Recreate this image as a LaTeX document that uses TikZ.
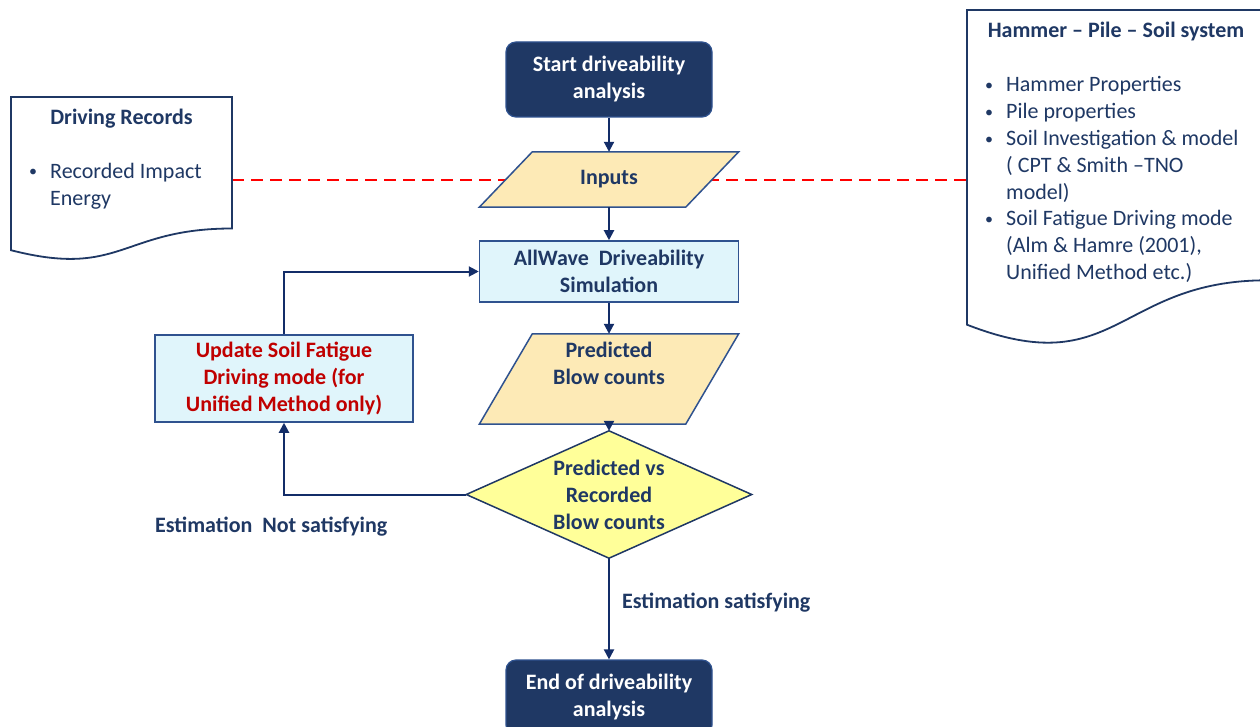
\documentclass[tikz,border=0pt]{standalone}
\usepackage{fontspec}
\setmainfont{Carlito}
\usetikzlibrary{arrows.meta,backgrounds,calc}
\definecolor{navy}{HTML}{1F3864}
\definecolor{linenavy}{HTML}{132D68}
\definecolor{bord}{HTML}{2F528F}
\definecolor{cyanfill}{HTML}{E0F5FB}
\definecolor{iofill}{HTML}{FDEAB6}
\definecolor{decfill}{HTML}{FFFF99}
\definecolor{redtxt}{HTML}{C00000}
\newcommand{\dbul}{\strut\makebox[22pt][l]{\hspace*{1pt}\raisebox{1.5pt}{\fontsize{16pt}{16pt}\selectfont\textbullet}}}
\newcommand{\dind}{\strut\hspace*{22pt}}
\begin{document}
\begin{tikzpicture}[x=1pt,y=-1pt,
  txt/.style={font=\fontsize{22pt}{27pt}\selectfont, text=navy, inner sep=0pt},
  btxt/.style={txt, font=\fontsize{22pt}{27pt}\selectfont\bfseries},
  term/.style={btxt, align=center, text=white, fill=navy, draw=bord, line width=1.2pt, rounded corners=10pt, minimum width=206pt, minimum height=75pt},
  proc/.style={btxt, align=center, fill=cyanfill, draw=bord, line width=1.5pt},
  io/.style={btxt, align=center},
  ioshape/.style={fill=iofill, draw=bord, line width=1.5pt},
  decshape/.style={fill=decfill, draw=navy, line width=1.5pt},
  docshape/.style={fill=white, draw=navy, line width=1.8pt},
  arr/.style={draw=linenavy, line width=2pt, -{Triangle[length=10pt,width=10pt]}},
  reddash/.style={draw=red, line width=2.5pt, dash pattern=on 12pt off 7pt}
]
\begin{pgfonlayer}{background}
\fill[white] (0,0) rectangle (1260,727);
\end{pgfonlayer}
\useasboundingbox (0,0) rectangle (1260,727);

% document shapes
\draw[docshape] (11,97) -- (232,97) -- (232,228.5) .. controls (121.5,228.5) and (121.5,278.6) .. (11,250.2) -- cycle;
\draw[docshape] (967,10) -- (1267,10) -- (1267,280.3) .. controls (1117,280.3) and (1117,383.2) .. (967,324.7) -- cycle;

\node[btxt] (drT) at (121.5,119) {Driving Records};
\node[txt, align=left, anchor=north west] (drL) at (28,159) {\dbul Recorded Impact\\\dind Energy};
\coordinate (drE) at (232,180);

\node[btxt] (hmT) at (1116,32) {Hammer – Pile – Soil system};
\node[txt, align=left, anchor=north west, font=\fontsize{22pt}{26.8pt}\selectfont] (hmL) at (984,73) {\dbul Hammer Properties\\
\dbul Pile properties\\
\dbul Soil Investigation \& model\\
\dind ( CPT \& Smith –TNO\\
\dind model)\\
\dbul Soil Fatigue Driving mode\\
\dind (Alm \& Hamre (2001),\\
\dind Unified Method\ etc.)};
\coordinate (hmW) at (967,180);

% flow nodes
\node[term] (start) at (609,79.5) {Start driveability\\analysis};
\node[io, minimum width=206pt, minimum height=55pt] (inputs) at (609,179.5) {Inputs};
\node[proc, minimum width=259pt, minimum height=61pt] (sim) at (609,271.5) {AllWave\ \ Driveability\\Simulation};
\node[io, minimum width=206pt, minimum height=90pt] (pred) at (609,379) {\strut Predicted\\\strut Blow counts\\\strut};
\node[io, minimum width=285pt, minimum height=127pt] (dec) at (609,494.5) {Predicted vs\\Recorded\\Blow counts};
\node[term] (end) at (609,697.5) {End of driveability\\analysis};
\node[proc, text=redtxt, minimum width=258pt, minimum height=87pt] (upd) at (284,378.5) {Update Soil Fatigue\\Driving mode (for\\Unified Method only)};
\node[btxt, anchor=west] (lno) at (155,527) {Estimation\ \ Not satisfying};
\node[btxt, anchor=west] (lyes) at (622,603) {Estimation satisfying};

\begin{pgfonlayer}{background}
\draw[reddash] (drE) -- (hmW);
\draw[ioshape] ($(inputs.north west)+(26.5,0)$) -- ($(inputs.north east)+(26.5,0)$) -- ($(inputs.south east)+(-26.5,0)$) -- ($(inputs.south west)+(-26.5,0)$) -- cycle;
\draw[ioshape] ($(pred.north west)+(26.5,0)$) -- ($(pred.north east)+(26.5,0)$) -- ($(pred.south east)+(-26.5,0)$) -- ($(pred.south west)+(-26.5,0)$) -- cycle;
\draw[decshape] (dec.north) -- (dec.east) -- (dec.south) -- (dec.west) -- cycle;
\end{pgfonlayer}

% connectors
\draw[arr] (start.south) -- (inputs.north);
\draw[arr] (inputs.south) -- (sim.north);
\draw[arr] (sim.south) -- (pred.north);
\draw[arr] (pred.south) -- (dec.north);
\draw[arr] (dec.south) -- (end.north);
\draw[arr] (dec.west) -| (upd.south);
\draw[arr] (upd.north) |- (sim.west);
\end{tikzpicture}
\end{document}
